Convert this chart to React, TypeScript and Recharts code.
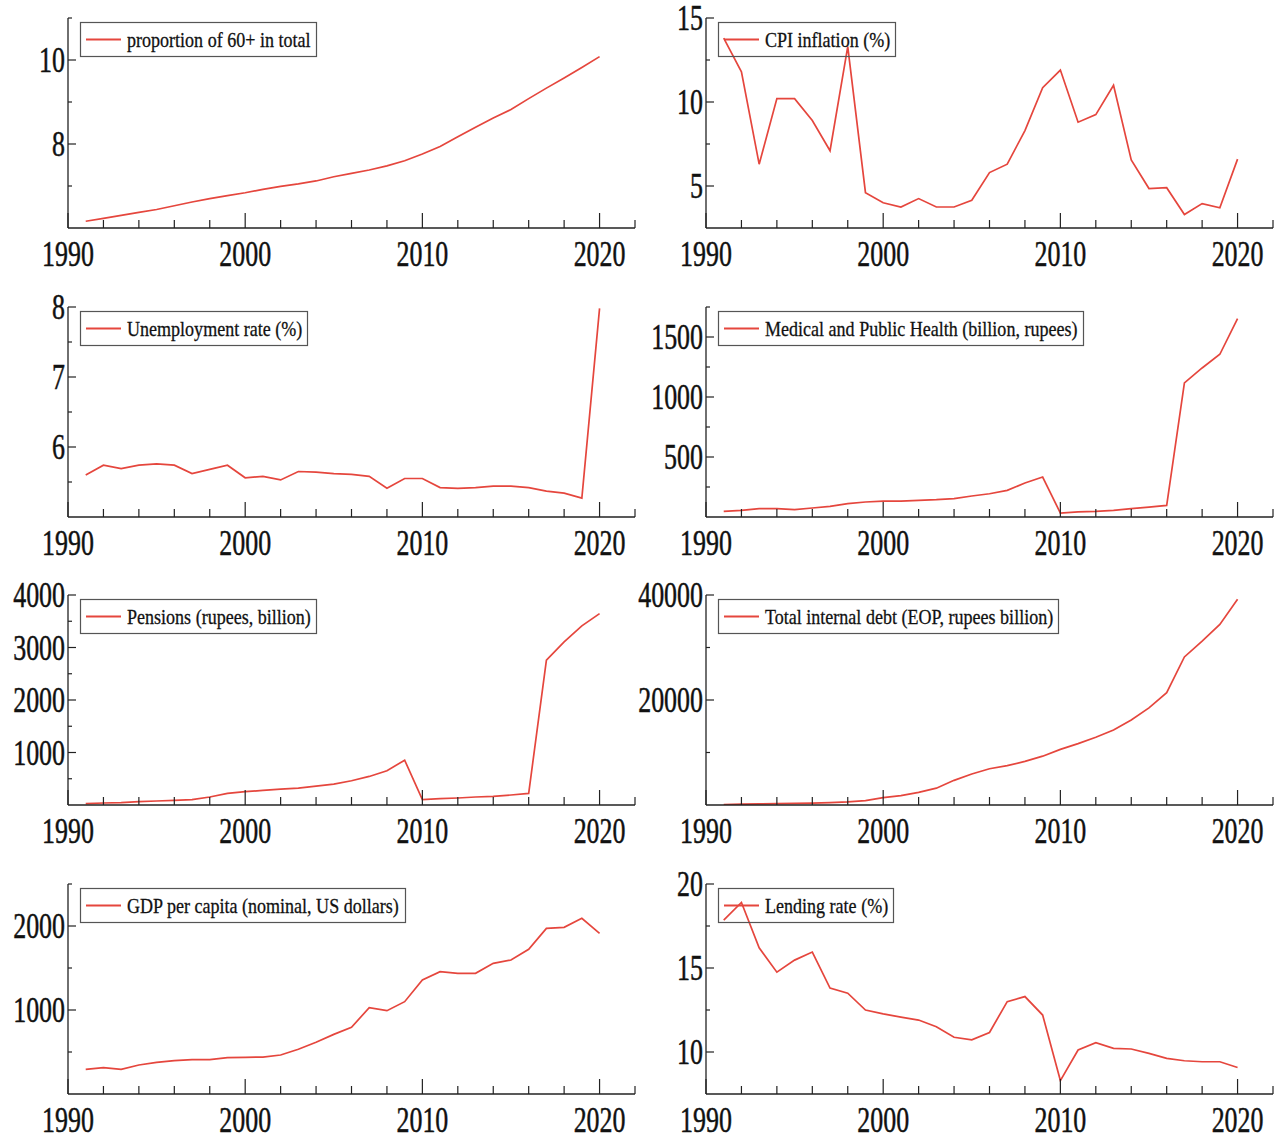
import { LineChart, Line, XAxis, YAxis, Legend } from "recharts";

const YEARS = [
  1991, 1992, 1993, 1994, 1995, 1996, 1997, 1998, 1999, 2000,
  2001, 2002, 2003, 2004, 2005, 2006, 2007, 2008, 2009, 2010,
  2011, 2012, 2013, 2014, 2015, 2016, 2017, 2018, 2019, 2020,
];

const X_TICKS = [
  1990, 1992, 1994, 1996, 1998, 2000, 2002, 2004, 2006, 2008,
  2010, 2012, 2014, 2016, 2018, 2020, 2022,
];
const X_LABELS = [1990, 2000, 2010, 2020];

const AGED_60_PLUS = [
  6.16, 6.23, 6.3, 6.37, 6.44, 6.53, 6.62, 6.7, 6.77, 6.84,
  6.92, 6.99, 7.05, 7.12, 7.22, 7.3, 7.38, 7.48, 7.6, 7.76,
  7.94, 8.17, 8.4, 8.62, 8.82, 9.08, 9.33, 9.57, 9.82, 10.08,
];
const CPI_INFLATION = [
  13.8, 11.8, 6.3, 10.2, 10.2, 8.9, 7.1, 13.3, 4.6, 4.0,
  3.75, 4.25, 3.75, 3.75, 4.15, 5.8, 6.3, 8.3, 10.85, 11.9,
  8.8, 9.25, 11.0, 6.55, 4.85, 4.9, 3.3, 3.95, 3.7, 6.6,
];
const UNEMPLOYMENT = [
  5.6, 5.74, 5.69, 5.74, 5.76, 5.74, 5.62, 5.68, 5.74, 5.56,
  5.58, 5.53, 5.65, 5.64, 5.62, 5.61, 5.58, 5.41, 5.55, 5.55,
  5.42, 5.41, 5.42, 5.44, 5.44, 5.42, 5.37, 5.34, 5.27, 7.98,
];
const MEDICAL_HEALTH = [
  47, 56, 69, 69, 61, 75, 89, 111, 125, 133,
  133, 139, 144, 153, 175, 194, 222, 283, 333, 33,
  42, 47, 56, 69, 83, 97, 1117, 1242, 1356, 1653,
];
const PENSIONS = [
  25, 38, 44, 63, 76, 89, 101, 152, 222, 253,
  278, 304, 323, 361, 399, 462, 544, 652, 854, 101,
  120, 133, 152, 165, 190, 222, 2760, 3108, 3411, 3646,
];
const INTERNAL_DEBT = [
  100, 150, 200, 250, 300, 350, 450, 600, 850, 1400,
  1800, 2400, 3200, 4700, 5900, 6900, 7500, 8300, 9300, 10600,
  11700, 12900, 14300, 16200, 18500, 21400, 28200, 31200, 34400, 39200,
];
const GDP_PER_CAPITA = [
  294, 313, 294, 345, 377, 397, 409, 409, 433, 437,
  440, 464, 532, 615, 710, 794, 1028, 992, 1099, 1357,
  1456, 1437, 1437, 1556, 1595, 1722, 1972, 1984, 2091, 1913,
];
const LENDING_RATE = [
  17.85, 18.9, 16.2, 14.75, 15.47, 15.95, 13.8, 13.5, 12.5, 12.27,
  12.08, 11.9, 11.5, 10.88, 10.72, 11.16, 13.0, 13.3, 12.2, 8.3,
  10.12, 10.56, 10.22, 10.18, 9.92, 9.62, 9.48, 9.42, 9.42, 9.08,
];

// y ticks: every tick drawn, only the labelled ones get text
const AGED_TICKS = [7, 8, 9, 10, 11];
const AGED_LABELS = [8, 10];
const CPI_TICKS = [5, 7.5, 10, 12.5, 15];
const CPI_LABELS = [5, 10, 15];
const UNEMP_TICKS = [5.5, 6, 6.5, 7, 7.5, 8];
const UNEMP_LABELS = [6, 7, 8];
const MEDICAL_TICKS = [250, 500, 750, 1000, 1250, 1500, 1750];
const MEDICAL_LABELS = [500, 1000, 1500];
const PENSION_TICKS = [500, 1000, 1500, 2000, 2500, 3000, 3500, 4000];
const PENSION_LABELS = [1000, 2000, 3000, 4000];
const DEBT_TICKS = [10000, 20000, 30000, 40000];
const DEBT_LABELS = [20000, 40000];
const GDP_TICKS = [500, 1000, 1500, 2000, 2500];
const GDP_LABELS = [1000, 2000];
const LENDING_TICKS = [10, 12.5, 15, 17.5, 20];
const LENDING_LABELS = [10, 15, 20];

const PANELS = [
  { name: "proportion of 60+ in total", values: AGED_60_PLUS, domain: [6, 11], ticks: AGED_TICKS, labels: AGED_LABELS },
  { name: "CPI inflation (%)", values: CPI_INFLATION, domain: [2.5, 15], ticks: CPI_TICKS, labels: CPI_LABELS },
  { name: "Unemployment rate (%)", values: UNEMPLOYMENT, domain: [5, 8], ticks: UNEMP_TICKS, labels: UNEMP_LABELS },
  { name: "Medical and Public Health (billion, rupees)", values: MEDICAL_HEALTH, domain: [0, 1750], ticks: MEDICAL_TICKS, labels: MEDICAL_LABELS },
  { name: "Pensions (rupees, billion)", values: PENSIONS, domain: [0, 4000], ticks: PENSION_TICKS, labels: PENSION_LABELS },
  { name: "Total internal debt (EOP, rupees billion)", values: INTERNAL_DEBT, domain: [0, 40000], ticks: DEBT_TICKS, labels: DEBT_LABELS },
  { name: "GDP per capita (nominal, US dollars)", values: GDP_PER_CAPITA, domain: [0, 2500], ticks: GDP_TICKS, labels: GDP_LABELS },
  { name: "Lending rate (%)", values: LENDING_RATE, domain: [7.5, 20], ticks: LENDING_TICKS, labels: LENDING_LABELS },
];

const RED = "#e5463d";
const AXIS = "#222";
const FONT = "'Liberation Serif', 'Times New Roman', serif";
const TICK_SIZE = 36;
const TICK_SQUEEZE = 0.72;
const LEG_SIZE = 22;
const LEG_SQUEEZE = 0.82;

// plot tops are at 18, 307, 595, 884; each chart starts 30px above its plot
const PAD_TOP = 30;
const ROW_TOPS = [-12, 277, 565, 854];

let measureCtx: CanvasRenderingContext2D | null = null;
function textWidth(s: string, size: number) {
  if (!measureCtx) measureCtx = document.createElement("canvas").getContext("2d");
  if (!measureCtx) return s.length * size * 0.45;
  measureCtx.font = `${size}px 'Liberation Serif'`;
  return measureCtx.measureText(s).width;
}

function XTick({ x, y, payload }: any) {
  const v = payload.value;
  const major = X_LABELS.includes(v);
  return (
    <g>
      <line x1={x} x2={x} y1={y} y2={y - (major ? 15 : 8)} stroke={AXIS} strokeWidth={1.2} />
      {major && (
        <g transform={`translate(${x},${y + 38}) scale(${TICK_SQUEEZE},1)`}>
          <text x={0} y={0} textAnchor="middle" fontFamily={FONT} fontSize={TICK_SIZE} fill="#111" stroke="#111" strokeWidth={0.5}>
            {v}
          </text>
        </g>
      )}
    </g>
  );
}

function makeYTick(labels: number[]) {
  return ({ x, y, payload }: any) => {
    const v = payload.value;
    const major = labels.includes(v);
    return (
      <g>
        <line x1={x} x2={x + (major ? 8 : 4)} y1={y} y2={y} stroke={AXIS} strokeWidth={1.2} />
        {major && (
          <g transform={`translate(${x - 3},${y + 12}) scale(${TICK_SQUEEZE},1)`}>
            <text x={0} y={0} textAnchor="end" fontFamily={FONT} fontSize={TICK_SIZE} fill="#111" stroke="#111" strokeWidth={0.5}>
              {v}
            </text>
          </g>
        )}
      </g>
    );
  };
}

function LegendBox({ name }: { name: string }) {
  const w = Math.round(47 + textWidth(name, LEG_SIZE) * LEG_SQUEEZE + 6);
  return (
    <svg width={w} height={35} style={{ display: "block", overflow: "visible" }}>
      <rect x={0.5} y={0.5} width={w - 1} height={34} fill="none" stroke="#555" strokeWidth={1.2} />
      <line x1={6} x2={41} y1={17.5} y2={17.5} stroke={RED} strokeWidth={2} />
      <g transform={`translate(47,25) scale(${LEG_SQUEEZE},1)`}>
        <text x={0} y={0} fontFamily={FONT} fontSize={LEG_SIZE} fill="#111" stroke="#111" strokeWidth={0.3}>
          {name}
        </text>
      </g>
    </svg>
  );
}

function Panel({ index }: { index: number }) {
  const p = PANELS[index];
  const right = index % 2 === 1;
  const left = right ? 600 : 0;
  const width = right ? 677 : 640;
  const yAxisWidth = right ? 106 : 68;
  const top = ROW_TOPS[Math.floor(index / 2)];
  const data = YEARS.map((year, i) => ({ year, value: p.values[i] }));

  return (
    <div style={{ position: "absolute", left, top }}>
      <LineChart
        width={width}
        height={PAD_TOP + 210 + 60}
        data={data}
        margin={{ top: PAD_TOP, right: right ? 4 : 5, bottom: 0, left: 0 }}
      >
        <XAxis
          dataKey="year"
          type="number"
          domain={[1990, 2022]}
          ticks={X_TICKS}
          interval={0}
          tickSize={0}
          tickMargin={0}
          tickLine={false}
          axisLine={{ stroke: AXIS, strokeWidth: 1.3 }}
          tick={XTick}
          height={60}
        />
        <YAxis
          type="number"
          domain={p.domain}
          ticks={p.ticks}
          interval={0}
          tickSize={0}
          tickMargin={0}
          tickLine={false}
          axisLine={{ stroke: AXIS, strokeWidth: 1.3 }}
          tick={makeYTick(p.labels)}
          width={yAxisWidth}
          allowDataOverflow
        />
        <Legend
          layout="vertical"
          align="center"
          verticalAlign="middle"
          wrapperStyle={{ top: PAD_TOP + 4, left: yAxisWidth + 12, width: "auto", height: "auto" }}
          content={() => <LegendBox name={p.name} />}
        />
        <Line
          type="linear"
          dataKey="value"
          stroke={RED}
          strokeWidth={1.7}
          dot={false}
          activeDot={false}
          isAnimationActive={false}
        />
      </LineChart>
    </div>
  );
}

export default function App() {
  return (
    <div
      style={{
        position: "absolute",
        left: 0,
        top: 0,
        width: 1277,
        height: 1135,
        overflow: "hidden",
        background: "#fff",
      }}
    >
      {PANELS.map((_, i) => (
        <Panel key={i} index={i} />
      ))}
    </div>
  );
}
